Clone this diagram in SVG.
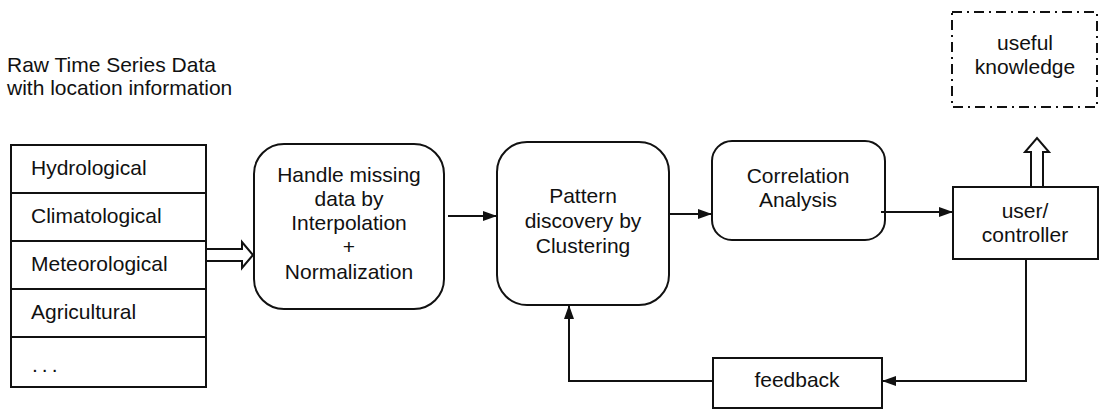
<svg xmlns="http://www.w3.org/2000/svg" width="1101" height="410" viewBox="0 0 1101 410">
<defs>
<style>
text{font-family:"Liberation Sans",Arial,sans-serif;font-size:21px;fill:#111}
.c{text-anchor:middle}
.b{fill:#fff;stroke:#111;stroke-width:2}
.l{fill:none;stroke:#111;stroke-width:2}
</style>
<marker id="ah" viewBox="0 0 14 10" refX="14" refY="5" markerWidth="14" markerHeight="10" markerUnits="userSpaceOnUse" orient="auto">
<path d="M0,0 L14,5 L0,10 Z" fill="#111"/>
</marker>
</defs>
<rect width="1101" height="410" fill="#fff"/>
<g id="title">
<text x="7" y="72">Raw Time Series Data</text>
<text x="7" y="95">with location information</text>
</g>
<g id="sources">
<rect class="b" x="11" y="145" width="195" height="242"/>
<line class="l" x1="11" y1="193" x2="206" y2="193"/>
<line class="l" x1="11" y1="241" x2="206" y2="241"/>
<line class="l" x1="11" y1="289" x2="206" y2="289"/>
<line class="l" x1="11" y1="337" x2="206" y2="337"/>
<text x="31" y="175">Hydrological</text>
<text x="31" y="223">Climatological</text>
<text x="31" y="271">Meteorological</text>
<text x="31" y="319">Agricultural</text>
<text x="32" y="372" letter-spacing="4">...</text>
</g>
<g id="handle">
<rect class="b" x="254" y="144" width="190" height="165" rx="30"/>
<text class="c" x="349" y="182">Handle missing</text>
<text class="c" x="349" y="206">data by</text>
<text class="c" x="349" y="230">Interpolation</text>
<text class="c" x="349" y="254">+</text>
<text class="c" x="349" y="279">Normalization</text>
</g>
<g id="pattern">
<rect class="b" x="497" y="142" width="172" height="163" rx="30"/>
<text class="c" x="583" y="203">Pattern</text>
<text class="c" x="583" y="228">discovery by</text>
<text class="c" x="583" y="253">Clustering</text>
</g>
<g id="correlation">
<rect class="b" x="712" y="141" width="173" height="99" rx="20"/>
<text class="c" x="798" y="183">Correlation</text>
<text class="c" x="798" y="207">Analysis</text>
</g>
<g id="user">
<rect class="b" x="953" y="187" width="145" height="72"/>
<text class="c" x="1025" y="218">user/</text>
<text class="c" x="1025" y="242">controller</text>
</g>
<g id="knowledge">
<rect x="952" y="12" width="145" height="95" fill="none" stroke="#111" stroke-width="2" stroke-dasharray="10,5,2,5"/>
<text class="c" x="1025" y="50">useful</text>
<text class="c" x="1025" y="74">knowledge</text>
</g>
<g id="feedback">
<rect class="b" x="713" y="358" width="169" height="50"/>
<text class="c" x="797" y="387">feedback</text>
</g>
<g id="connectors">
<path class="b" d="M206,249 L242,249 L242,242 L253,255 L242,268 L242,261 L206,261 Z"/>
<line class="l" x1="448" y1="216" x2="497" y2="216" marker-end="url(#ah)"/>
<line class="l" x1="670" y1="214" x2="712" y2="214" marker-end="url(#ah)"/>
<line class="l" x1="881" y1="212" x2="953" y2="212" marker-end="url(#ah)"/>
<path class="b" d="M1031,187 L1031,152 L1025,152 L1037,138 L1049,152 L1043,152 L1043,187 Z"/>
<polyline class="l" points="1026,259 1026,381 882,381" marker-end="url(#ah)"/>
<polyline class="l" points="713,381 569,381 569,305" marker-end="url(#ah)"/>
</g>
</svg>
